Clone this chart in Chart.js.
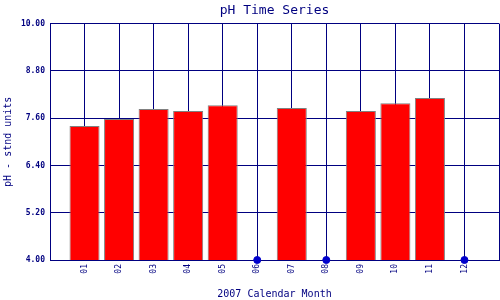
<!DOCTYPE html>
<html>
<head>
<meta charset="utf-8">
<script src="https://cdn.jsdelivr.net/npm/chart.js@4"></script>
<style>
  body { margin: 0; background: #fff; }
</style>
</head>
<body>
<canvas id="chart" width="500" height="300"></canvas>
<script>
// month labels, padded with an empty slot at each end
const months = ['', '01', '02', '03', '04', '05', '06', '07', '08', '09', '10', '11', '12', ''];
// monthly pH values (null = no sample)
const phValues = [null, 7.40, 7.58, 7.83, 7.78, 7.93, null, 7.86, null, 7.78, 7.98, 8.11, null, null];
// months without samples get a marker on the axis
const missingMonths = ['06', '08', '12'];

const yMin = 4, yMax = 10, yStep = 1.2;
const navy = '#000080';
const mono = '"DejaVu Sans Mono", "Liberation Mono", monospace';

const missingData = months.map(m => missingMonths.includes(m) ? yMin : null);

new Chart(document.getElementById('chart'), {
  type: 'bar',
  data: {
    labels: months,
    datasets: [
      {
        type: 'line',
        data: missingData,
        showLine: false,
        pointRadius: 3.5,
        pointBackgroundColor: '#0000cc',
        pointBorderColor: '#0000cc',
        clip: false,
        order: 0
      },
      {
        data: phValues,
        backgroundColor: '#ff0000',
        borderColor: '#808080',
        borderWidth: 1,
        barPercentage: 0.87,
        categoryPercentage: 1,
        order: 1
      }
    ]
  },
  options: {
    responsive: false,
    animation: false,
    layout: { autoPadding: false, padding: { right: 1 } },
    plugins: {
      legend: { display: false },
      tooltip: { enabled: false },
      title: {
        display: true,
        text: 'pH Time Series',
        fullSize: false,
        color: navy,
        font: { family: mono, size: 13, weight: 'normal' },
        padding: { top: 3, bottom: 5 }
      }
    },
    scales: {
      x: {
        offset: false,
        grid: { color: navy, drawTicks: false, lineWidth: 1, offset: false },
        border: { color: navy },
        ticks: {
          color: navy,
          font: { family: mono, size: 8 },
          minRotation: 90,
          maxRotation: 90,
          padding: 4,
          autoSkip: false
        },
        title: {
          display: true,
          text: '2007 Calendar Month',
          color: navy,
          font: { family: mono, size: 10 },
          padding: 0
        },
        afterFit: s => {
          s.height = 40;
          s.paddingLeft = 0;
          s.paddingRight = 0;
        }
      },
      y: {
        min: yMin,
        max: yMax,
        grid: { color: navy, drawTicks: false, lineWidth: 1 },
        border: { color: navy },
        ticks: {
          stepSize: yStep,
          color: navy,
          padding: 5,
          font: { family: mono, size: 8, weight: 'bold' },
          callback: v => v.toFixed(2)
        },
        title: {
          display: true,
          text: 'pH - stnd units',
          color: navy,
          font: { family: mono, size: 10 },
          padding: 2
        },
        afterFit: s => { s.width = 50; }
      }
    }
  }
});
</script>
</body>
</html>
